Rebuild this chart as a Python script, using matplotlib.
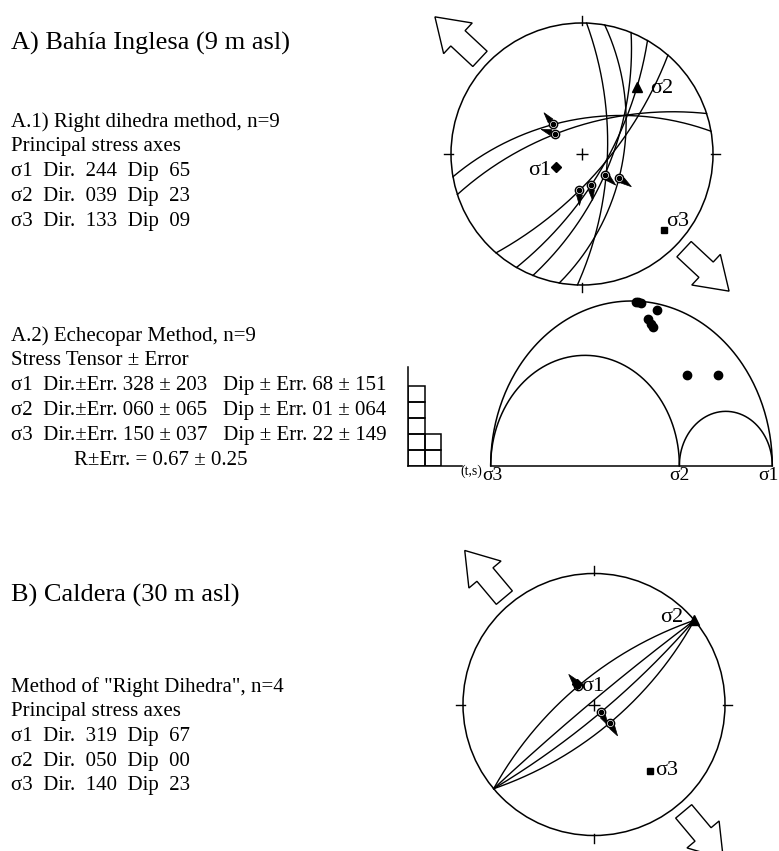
import numpy as np
import matplotlib.pyplot as plt
from matplotlib.patches import Circle, FancyArrow

plt.rcParams['font.family'] = ['Liberation Serif', 'DejaVu Serif']

W, H = 779, 851

# A) Bahia Inglesa - fault planes (dip direction, dip) and striae
bi_dipdir = [350, 342, 92, 100, 112, 120, 131]
bi_dip = [60, 66, 68, 55, 65, 69, 70]
bi_striae_plane = [0, 1, 3, 4, 5, 6]
bi_striae_trend = [316, 307, 123, 133, 164, 184]
bi_striae_arrow = [321, 288, 125, 132, 174, 180]
bi_axes_trend = [244, 39, 133]
bi_axes_plunge = [65, 23, 9]

# A.2) Echecopar - Mohr diagram (normalised) and misfit histogram
R_ratio = 0.67
mohr_normal = [0.516, 0.524, 0.533, 0.592, 0.560, 0.577, 0.571, 0.698, 0.808]
mohr_shear = [0.498, 0.496, 0.493, 0.473, 0.444, 0.422, 0.430, 0.274, 0.274]
hist_counts = [5, 2, 0]

# B) Caldera
cal_dipdir = [320, 140, 140, 320]
cal_dip = [69, 69, 81, 87]
cal_striae_plane = [0, 1, 2]
cal_striae_trend = [320, 140, 140]
cal_striae_arrow = [320, 148, 150]
cal_axes_trend = [319, 50, 140]
cal_axes_plunge = [67, 0, 23]

text_a1 = ["A.1) Right dihedra method, n=9",
           "Principal stress axes",
           "\u03c31  Dir.  244  Dip  65",
           "\u03c32  Dir.  039  Dip  23",
           "\u03c33  Dir.  133  Dip  09"]
text_a2 = ["A.2) Echecopar Method, n=9",
           "Stress Tensor \u00b1 Error",
           "\u03c31  Dir.\u00b1Err. 328 \u00b1 203   Dip \u00b1 Err. 68 \u00b1 151",
           "\u03c32  Dir.\u00b1Err. 060 \u00b1 065   Dip \u00b1 Err. 01 \u00b1 064",
           "\u03c33  Dir.\u00b1Err. 150 \u00b1 037   Dip \u00b1 Err. 22 \u00b1 149"]
text_b = ['Method of "Right Dihedra", n=4',
          "Principal stress axes",
          "\u03c31  Dir.  319  Dip  67",
          "\u03c32  Dir.  050  Dip  00",
          "\u03c33  Dir.  140  Dip  23"]


def box(x0, y0, w, h):
    """pixel box (top-left origin) -> figure fraction rect"""
    return [x0 / W, 1 - (y0 + h) / H, w / W, h / H]


def proj(trend, plunge):
    """equal-angle (Wulff) lower hemisphere projection"""
    t = np.radians(trend)
    r = np.tan(np.radians(90 - np.asarray(plunge)) / 2)
    return r * np.sin(t), r * np.cos(t)


def great_circle(dipdir, dip):
    st = np.radians(dipdir - 90)
    dd, dp = np.radians(dipdir), np.radians(dip)
    s = np.array([np.sin(st), np.cos(st), 0])
    d = np.array([np.sin(dd) * np.cos(dp), np.cos(dd) * np.cos(dp), -np.sin(dp)])
    t = np.linspace(0, np.pi, 200)
    v = np.outer(np.cos(t), s) + np.outer(np.sin(t), d)
    plunge = np.degrees(np.arcsin(np.clip(-v[:, 2], -1, 1)))
    trend = np.degrees(np.arctan2(v[:, 0], v[:, 1]))
    return proj(trend, plunge)


def stereonet(ax, dipdir, dip, s_plane, s_trend, s_arrow, ax_trend, ax_plunge, offsets):
    ax.set_xlim(-1.7, 1.7)
    ax.set_ylim(-1.7, 1.7)
    ax.set_aspect('equal')
    ax.axis('off')
    ax.add_patch(Circle((0, 0), 1, fill=False, lw=1.1, ec='black'))
    for a in [0, 90, 180, 270]:
        r = np.array([0.985, 1.055])
        ax.plot(r * np.sin(np.radians(a)), r * np.cos(np.radians(a)), color='black', lw=1)
    ax.plot(0, 0, marker='+', color='black', ms=8, mew=1)

    for dd, dp in zip(dipdir, dip):
        x, y = great_circle(dd, dp)
        ax.plot(x, y, color='black', lw=1.0)

    for p, tr, ar in zip(s_plane, s_trend, s_arrow):
        pl = np.degrees(np.arctan(np.tan(np.radians(dip[p])) * np.cos(np.radians(tr - dipdir[p]))))
        x, y = proj(tr, pl)
        a = np.radians(ar)
        ax.add_patch(FancyArrow(x, y, 0.115 * np.sin(a), 0.115 * np.cos(a), width=0.012,
                                head_width=0.045, head_length=0.08, length_includes_head=True,
                                fc='black', ec='black', lw=0.5, zorder=3))
        ax.plot(x, y, 'o', ms=6, mfc='white', mec='black', mew=1, zorder=4)
        ax.plot(x, y, 'o', ms=3, color='black', zorder=5)

    markers = ['D', '^', 's']
    sizes = [5, 7.5, 5]
    labels = ['\u03c31', '\u03c32', '\u03c33']
    for tr, pl, m, ms, lab, (ox, oy, ha) in zip(ax_trend, ax_plunge, markers, sizes, labels, offsets):
        x, y = proj(tr, pl)
        ax.plot(x, y, marker=m, ms=ms, color='black', zorder=6)
        ax.annotate(lab, (x, y), xytext=(ox, oy), textcoords='offset points',
                    ha=ha, va='center', fontsize=16)

    # extension arrows along sigma3 trend
    a3 = ax_trend[2]
    for az in [a3, a3 + 180]:
        a = np.radians(az)
        ax.add_patch(FancyArrow(1.065 * np.sin(a), 1.065 * np.cos(a), 0.47 * np.sin(a), 0.47 * np.cos(a),
                                width=0.16, head_width=0.32, head_length=0.24,
                                length_includes_head=True, fc='white', ec='black', lw=1.0,
                                clip_on=False))


fig = plt.figure(figsize=(W / 100, H / 100), dpi=100)

R1 = 131
ax1 = fig.add_axes(box(582 - 1.7 * R1, 154 - 1.7 * R1, 3.4 * R1, 3.4 * R1))
stereonet(ax1, bi_dipdir, bi_dip, bi_striae_plane, bi_striae_trend, bi_striae_arrow,
          bi_axes_trend, bi_axes_plunge,
          [(-3, -3, 'right'), (10, -1, 'left'), (2, 6.5, 'left')])

ax2 = fig.add_axes(box(594 - 1.7 * R1, 704.5 - 1.7 * R1, 3.4 * R1, 3.4 * R1))
stereonet(ax2, cal_dipdir, cal_dip, cal_striae_plane, cal_striae_trend, cal_striae_arrow,
          cal_axes_trend, cal_axes_plunge,
          [(3.5, -1.5, 'left'), (-8, 2, 'right'), (4, 0, 'left')])

# Mohr diagram
axm = fig.add_axes(box(490.7, 301, 281.6, 164.7))
axm.set_xlim(0, 1)
axm.set_ylim(0, 0.5)
axm.axis('off')
s3, s2, s1 = 0.0, R_ratio, 1.0
th = np.linspace(0, np.pi, 200)
for a, b in [(s3, s1), (s3, s2), (s2, s1)]:
    c, r = (a + b) / 2, (b - a) / 2
    axm.plot(c + r * np.cos(th), r * np.sin(th), color='black', lw=1.1, clip_on=False)
axm.plot([s3, s1], [0, 0], color='black', lw=1.1, clip_on=False)
axm.plot(mohr_normal, mohr_shear, 'o', color='black', ms=6, clip_on=False)
for v, lab, dx in zip([s3, s2, s1], ['\u03c33', '\u03c32', '\u03c31'], [1, 0, -3]):
    axm.annotate(lab, (v, 0), xytext=(dx, -7), textcoords='offset points',
                 ha='center', va='center', fontsize=14)

# misfit histogram
axh = fig.add_axes(box(408.3, 366.7, 53.4, 99))
axh.set_xlim(0, 53.4 / 16.5)
axh.set_ylim(0, 99 / 16)
axh.set_facecolor('none')
for sp in ['top', 'right']:
    axh.spines[sp].set_visible(False)
for sp in ['left', 'bottom']:
    axh.spines[sp].set_linewidth(1.1)
axh.set_xticks([])
axh.set_yticks([])
for i, c in enumerate(hist_counts):
    if c:
        axh.bar([i] * c, [1] * c, bottom=list(range(c)), width=1, align='edge',
                fill=False, edgecolor='black', lw=1.1)
fig.text(471 / W, 1 - 471.7 / H, '(t,s)', ha='center', va='center', fontsize=10)

# texts
fig.text(11 / W, 1 - 50 / H, 'A) Bah\u00eda Inglesa (9 m asl)', fontsize=19, va='baseline')
for i, s in enumerate(text_a1):
    fig.text(11 / W, 1 - (126.7 + 24.8 * i) / H, s, fontsize=15, va='baseline')
for y, s in zip([341, 365, 390, 415, 440], text_a2):
    fig.text(11 / W, 1 - y / H, s, fontsize=15, va='baseline')
fig.text(74 / W, 1 - 465 / H, 'R\u00b1Err. = 0.67 \u00b1 0.25', fontsize=15, va='baseline')

fig.text(11 / W, 1 - 601.7 / H, 'B) Caldera (30 m asl)', fontsize=19, va='baseline')
for y, s in zip([692, 716, 741, 766, 790], text_b):
    fig.text(11 / W, 1 - y / H, s, fontsize=15, va='baseline')

fig.savefig('out.png', dpi=100)
